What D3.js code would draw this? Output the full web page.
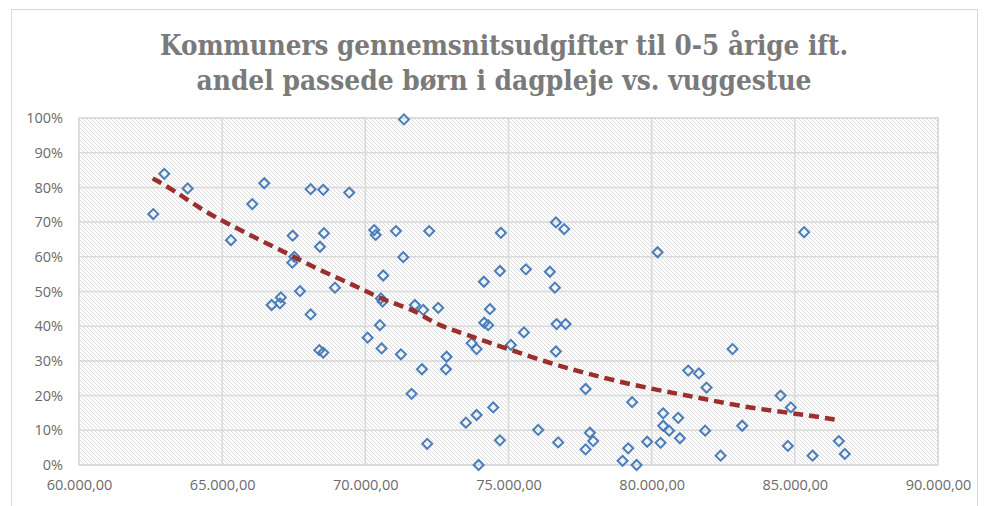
<!DOCTYPE html>
<html>
<head>
<meta charset="utf-8">
<script src="https://cdn.jsdelivr.net/npm/d3@7"></script>
<style>
  html, body { margin: 0; padding: 0; background: #fff; }
  svg { display: block; }
</style>
</head>
<body>
<svg id="chart" width="987" height="506"></svg>
<script>
// ---- Data ----
const titleLines = ["Kommuners gennemsnitsudgifter til 0-5 årige ift.", "andel passede børn i dagpleje vs. vuggestue"];
const xTicks = [60000, 65000, 70000, 75000, 80000, 85000, 90000];
const yTicks = [0, 0.1, 0.2, 0.3, 0.4, 0.5, 0.6, 0.7, 0.8, 0.9, 1.0];

// Municipalities: average expenditure (x) and share in dagpleje (y, %)
const expenditure = [
  62594, 62978, 63795, 65307, 66051, 66470, 67462, 67448, 67517, 68090,
  68530, 68415, 68555, 67717, 66728, 67050, 67018, 68090, 68391, 68530,
  71349, 69438, 70311, 70360, 71069, 72231, 74735, 76655, 76945, 71325,
  70625, 68939, 74141, 74700, 75608, 76446, 76620, 70545, 70600, 71732,
  72022, 72545, 74351, 74151, 74291, 70510, 70080, 70568, 71243, 73712,
  73886, 75084, 75538, 76679, 76994, 76655, 72838, 72814, 71977, 71616,
  77692, 79318, 73513, 73886, 74466, 76037, 76735, 77842, 77958, 77692,
  74700, 72161, 73956, 79180, 78984, 79473, 79843, 80311, 80402, 80402,
  80611, 80926, 80985, 81275, 81648, 81917, 81868, 82406, 82825, 83162,
  84501, 84860, 84756, 85618, 86536, 86745, 80206, 85325
];
const dagplejeShare = [
  72.3, 83.9, 79.7, 64.8, 75.2, 81.2, 66.1, 58.3, 60.0, 79.5,
  79.3, 62.9, 66.8, 50.1, 46.1, 48.3, 46.6, 43.4, 33.1, 32.4,
  99.6, 78.5, 67.7, 66.3, 67.4, 67.4, 66.9, 69.9, 68.0, 59.9,
  54.6, 51.1, 52.8, 55.9, 56.4, 55.7, 51.1, 48.0, 47.1, 46.1,
  44.7, 45.3, 44.9, 41.0, 40.3, 40.3, 36.7, 33.6, 31.9, 35.1,
  33.4, 34.6, 38.2, 40.6, 40.6, 32.7, 31.2, 27.6, 27.6, 20.5,
  21.9, 18.1, 12.2, 14.4, 16.6, 10.1, 6.5, 9.3, 6.9, 4.5,
  7.1, 6.1, 0.0, 4.8, 1.2, 0.0, 6.7, 6.4, 14.9, 11.3,
  9.9, 13.6, 7.7, 27.2, 26.4, 22.3, 9.9, 2.7, 33.4, 11.3,
  20.0, 16.6, 5.5, 2.7, 6.9, 3.2, 61.3, 67.1
];

// Trend line (x, %)
const trendX = [62573, 63293, 64459, 65506, 66320, 67018, 67601, 68530, 69578, 70276, 70974, 71791, 72371, 73537, 74934, 76445, 77727, 79354, 80869, 81917, 83079, 84243, 85409, 86456];
const trendY = [82.6, 79.3, 72.6, 68.3, 64.8, 62.0, 59.6, 55.7, 51.9, 49.0, 46.6, 44.4, 40.8, 37.5, 33.6, 29.3, 26.4, 23.0, 20.6, 18.9, 17.0, 15.6, 14.4, 13.0];

// ---- Layout ----
const svg = d3.select("#chart");
const plot = { left: 79, right: 938, top: 118, bottom: 465 };

const x = d3.scaleLinear().domain([60000, 90000]).range([plot.left, plot.right]);
const y = d3.scaleLinear().domain([0, 1]).range([plot.bottom, plot.top]);

const locale = d3.formatLocale({ decimal: ",", thousands: ".", grouping: [3], currency: ["", " kr."] });
const fmtX = locale.format(",.2f");
const fmtY = d3.format(".0%");

// Chart border
svg.append("rect").attr("x", 11.5).attr("y", 9.5).attr("width", 966).attr("height", 520)
  .attr("fill", "#fff").attr("stroke", "#d9d9d9").attr("stroke-width", 1);

// Hatch pattern
const defs = svg.append("defs");
const pat = defs.append("pattern").attr("id", "hatch").attr("patternUnits", "userSpaceOnUse")
  .attr("width", 4).attr("height", 4);
pat.append("rect").attr("width", 4).attr("height", 4).attr("fill", "#fcfcfc");
pat.append("path").attr("d", "M-1,-1 L5,5 M-1,3 L1,5 M3,-1 L5,1")
  .attr("stroke", "#dedede").attr("stroke-width", 1);

svg.append("rect").attr("x", plot.left).attr("y", plot.top)
  .attr("width", plot.right - plot.left).attr("height", plot.bottom - plot.top)
  .attr("fill", "url(#hatch)").attr("stroke", "#d9d9d9").attr("stroke-width", 1.5);

// Gridlines
const grid = svg.append("g");
grid.selectAll("line.h").data(yTicks).join("line").attr("class", "h")
  .attr("x1", plot.left).attr("x2", plot.right)
  .attr("y1", d => y(d)).attr("y2", d => y(d))
  .attr("stroke", "#d9d9d9").attr("stroke-width", 1.5);
grid.selectAll("line.v").data(xTicks).join("line").attr("class", "v")
  .attr("y1", plot.top).attr("y2", plot.bottom)
  .attr("x1", d => x(d)).attr("x2", d => x(d))
  .attr("stroke", "#d9d9d9").attr("stroke-width", 1.5);

// Axes (labels only)
const yAxis = d3.axisLeft(y).tickValues(yTicks).tickFormat(fmtY).tickSize(0).tickPadding(16);
const gy = svg.append("g").attr("transform", `translate(${plot.left},0)`).call(yAxis);
gy.select(".domain").remove();
gy.selectAll("text").attr("font-family", "'Open Sans', sans-serif").attr("font-size", 14.5).attr("fill", "#6b6b6b");

const xAxis = d3.axisBottom(x).tickValues(xTicks).tickFormat(fmtX).tickSize(0).tickPadding(15);
const gx = svg.append("g").attr("transform", `translate(0,${plot.bottom})`).call(xAxis);
gx.select(".domain").remove();
gx.selectAll("text").attr("font-family", "'Open Sans', sans-serif").attr("font-size", 14.5).attr("fill", "#6b6b6b");

// Points
const pts = expenditure.map((v, i) => ({ x: v, y: dagplejeShare[i] / 100 }));
const sym = d3.symbol().type(d3.symbolSquare).size(50);
svg.append("g").selectAll("path").data(pts).join("path")
  .attr("d", sym)
  .attr("transform", d => `translate(${x(d.x)},${y(d.y)}) rotate(45)`)
  .attr("fill", "none").attr("stroke", "#4a7ebb").attr("stroke-width", 2);

// Trend line
const trend = trendX.map((v, i) => ({ x: v, y: trendY[i] / 100 }));
svg.append("path").datum(trend)
  .attr("d", d3.line().x(d => x(d.x)).y(d => y(d.y)).curve(d3.curveBasis))
  .attr("fill", "none").attr("stroke", "#9b2f2d").attr("stroke-width", 4.5)
  .attr("stroke-dasharray", "10,6");

// Title
const tl = svg.append("g").attr("font-family", "'DejaVu Serif Condensed', 'DejaVu Serif', serif")
  .attr("font-weight", "bold").attr("font-size", 28).attr("fill", "#7a7a7a").attr("text-anchor", "middle");
tl.append("text").attr("x", 504).attr("y", 55).attr("textLength", 688).attr("lengthAdjust", "spacingAndGlyphs").text(titleLines[0]);
tl.append("text").attr("x", 504).attr("y", 90).attr("textLength", 615).attr("lengthAdjust", "spacingAndGlyphs").text(titleLines[1]);
</script>
</body>
</html>
